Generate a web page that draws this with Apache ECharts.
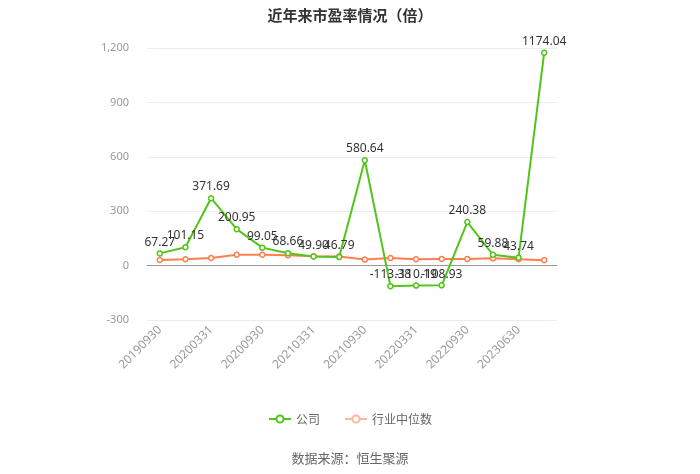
<!DOCTYPE html>
<html>
<head>
<meta charset="utf-8">
<script src="https://cdn.jsdelivr.net/npm/echarts@6/dist/echarts.min.js"></script>
<style>
html, body { margin: 0; padding: 0; background: #fff; }
#chart { width: 700px; height: 474px; }
</style>
</head>
<body>
<div id="chart"></div>
<script>
var categories = ['20190930', '20191231', '20200331', '20200630', '20200930', '20201231',
    '20210331', '20210630', '20210930', '20211231', '20220331', '20220630',
    '20220930', '20221231', '20230630', '20230930'];
var companyPE = [67.27, 101.15, 371.69, 200.95, 99.05, 68.66, 49.90, 46.79,
    580.64, -113.38, -110.19, -108.93, 240.38, 59.88, 43.74, 1174.04];
var industryPE = [31, 35, 42, 60, 60, 57, 52, 50, 33, 42, 35, 37, 37, 40, 35, 30];

var myChart = echarts.init(document.getElementById('chart'));
var option = {
    title: {
        text: '近年来市盈率情况（倍）',
        left: 'center',
        top: 3,
        textStyle: { fontSize: 15, fontWeight: 'bold', color: '#333', fontFamily: 'Noto Sans CJK SC' }
    },
    legend: {
        bottom: 44,
        left: 'center',
        itemWidth: 22,
        itemHeight: 9,
        itemGap: 24,
        textStyle: { color: '#666', fontSize: 12, fontFamily: 'Noto Sans CJK SC' },
        data: [
            { name: '公司' },
            { name: '行业中位数', itemStyle: { color: '#fff', borderColor: '#ffb89c' }, lineStyle: { color: '#ffb89c' } }
        ]
    },
    graphic: [{
        type: 'text',
        left: 'center',
        top: 452,
        style: { text: '数据来源：恒生聚源', fill: '#666', fontSize: 13, fontFamily: 'Noto Sans CJK SC' }
    }],
    grid: { left: 147, right: 143, top: 48, bottom: 154 },
    xAxis: {
        type: 'category',
        data: categories,
        boundaryGap: true,
        axisLine: { lineStyle: { color: '#999' } },
        axisTick: { alignWithLabel: true, interval: 1, lineStyle: { color: '#999' } },
        axisLabel: { interval: 1, rotate: 45, color: '#999', fontSize: 12, fontFamily: 'Noto Sans' }
    },
    yAxis: {
        type: 'value',
        min: -300,
        max: 1200,
        interval: 300,
        axisLine: { show: false },
        axisTick: { show: false },
        axisLabel: { color: '#999', fontSize: 11, fontFamily: 'Noto Sans', margin: 18 },
        splitLine: { lineStyle: { color: '#e8ecf4' } }
    },
    series: [
        {
            name: '公司',
            type: 'line',
            data: companyPE,
            color: '#52c41a',
            symbol: 'circle',
            symbolSize: 5,
            itemStyle: { color: '#fff', borderColor: '#52c41a', borderWidth: 1.5 },
            lineStyle: { color: '#52c41a', width: 2 },
            label: {
                show: true,
                position: 'top',
                distance: 2,
                color: '#333',
                fontSize: 12,
                fontFamily: 'Noto Sans',
                formatter: function (p) { return p.value.toFixed(2); }
            },
            z: 3
        },
        {
            name: '行业中位数',
            type: 'line',
            data: industryPE,
            color: '#ff7f50',
            symbol: 'circle',
            symbolSize: 5,
            itemStyle: { color: '#fff', borderColor: '#ff7f50', borderWidth: 1.5 },
            lineStyle: { color: '#ff7f50', width: 2 },
            z: 2
        }
    ]
};
myChart.setOption(option);
</script>
</body>
</html>
